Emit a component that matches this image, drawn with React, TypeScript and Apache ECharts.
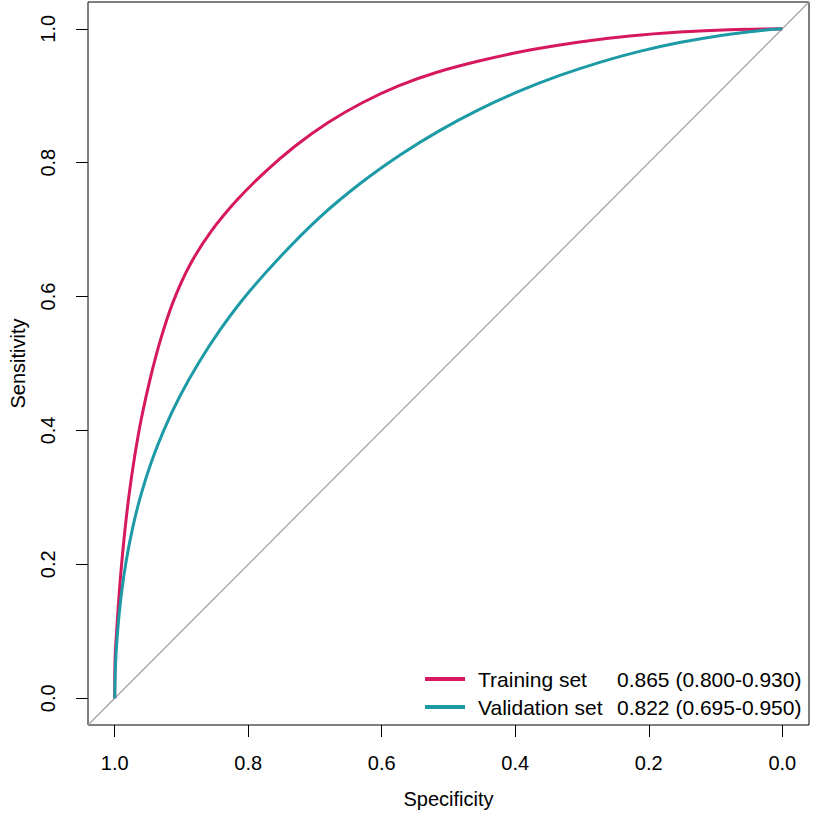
import React, { useEffect, useRef } from "react";
import * as echarts from "echarts";

// Axis range (R-style 4% expansion) and tick values
const axisMin = -0.04;
const axisMax = 1.04;
const tickValues = [0, 0.2, 0.4, 0.6, 0.8, 1.0];

const seriesNames = ["Training set", "Validation set"];
const aucLabels = ["0.865 (0.800-0.930)", "0.822 (0.695-0.950)"];
const seriesColors = ["#D6195F", "#1C9AA6"];

// [specificity, sensitivity]
const trainingRoc: [number, number][] = [
  [1.0, 0.0],
  [0.9994, 0.0598],
  [0.9958, 0.1196],
  [0.9915, 0.1794],
  [0.9859, 0.2392],
  [0.9791, 0.299],
  [0.9705, 0.3587],
  [0.9599, 0.4185],
  [0.9466, 0.4783],
  [0.9312, 0.5361],
  [0.9122, 0.5928],
  [0.8874, 0.6472],
  [0.8553, 0.6976],
  [0.8172, 0.7437],
  [0.775, 0.786],
  [0.7295, 0.8249],
  [0.6808, 0.8596],
  [0.6291, 0.8895],
  [0.5749, 0.9147],
  [0.5185, 0.9347],
  [0.4529, 0.9522],
  [0.3782, 0.9683],
  [0.3034, 0.9804],
  [0.2287, 0.9892],
  [0.154, 0.9951],
  [0.0792, 0.9987],
  [0.0, 1.0],
];

const validationRoc: [number, number][] = [
  [1.0, 0.0],
  [0.9985, 0.0568],
  [0.9951, 0.1061],
  [0.99, 0.1555],
  [0.9828, 0.2048],
  [0.9732, 0.2541],
  [0.9608, 0.3034],
  [0.9451, 0.3528],
  [0.9257, 0.4021],
  [0.9022, 0.4514],
  [0.8744, 0.5007],
  [0.8422, 0.5501],
  [0.8051, 0.5994],
  [0.7519, 0.6595],
  [0.6921, 0.719],
  [0.6323, 0.7688],
  [0.5725, 0.8115],
  [0.5127, 0.8483],
  [0.4529, 0.88],
  [0.3931, 0.9072],
  [0.3333, 0.9303],
  [0.2735, 0.9499],
  [0.2138, 0.9662],
  [0.154, 0.9794],
  [0.0942, 0.9897],
  [0.0344, 0.9972],
  [0.0, 1.0],
];

const diagonal: [number, number][] = [
  [axisMax, axisMin],
  [axisMin, axisMax],
];

const FONT = '"Liberation Sans", Arial, Helvetica, sans-serif';

export default function App() {
  const ref = useRef<HTMLDivElement>(null);
  useEffect(() => {
    if (!ref.current) return;
    const chart = echarts.init(ref.current, null, { renderer: "svg" });
    const fmt = (v: number) => v.toFixed(1);
    chart.setOption({
      animation: false,
      backgroundColor: "#ffffff",
      textStyle: { fontFamily: FONT, color: "#000" },
      grid: {
        left: 87,
        top: 2,
        right: 4,
        bottom: 91,
        show: true,
        borderColor: "#000",
        borderWidth: 1,
        backgroundColor: "transparent",
      },
      xAxis: {
        type: "value",
        inverse: true,
        min: axisMin,
        max: axisMax,
        name: "Specificity",
        nameLocation: "middle",
        nameGap: 64,
        nameTextStyle: { fontSize: 20, color: "#000", fontFamily: FONT },
        axisLine: { show: false, onZero: false },
        splitLine: { show: false },
        axisTick: {
          show: true,
          inside: false,
          length: 12,
          customValues: tickValues,
          lineStyle: { color: "#000", width: 1 },
        },
        axisLabel: {
          customValues: tickValues,
          formatter: fmt,
          fontSize: 20,
          color: "#000",
          margin: 28,
          fontFamily: FONT,
        },
      },
      yAxis: {
        type: "value",
        min: axisMin,
        max: axisMax,
        name: "Sensitivity",
        nameLocation: "middle",
        nameRotate: 90,
        nameGap: 60,
        nameTextStyle: { fontSize: 20, color: "#000", fontFamily: FONT },
        axisLine: { show: false, onZero: false },
        splitLine: { show: false },
        axisTick: {
          show: true,
          inside: false,
          length: 12,
          customValues: tickValues,
          lineStyle: { color: "#000", width: 1 },
        },
        axisLabel: {
          customValues: tickValues,
          formatter: fmt,
          fontSize: 20,
          color: "#000",
          rotate: 90,
          margin: 30,
          fontFamily: FONT,
        },
      },
      legend: {
        data: seriesNames,
        orient: "vertical",
        left: 425,
        top: 668,
        padding: 0,
        itemGap: 6,
        itemWidth: 40,
        itemHeight: 4,
        icon: "rect",
        selectedMode: false,
        formatter: (name: string) => {
          const i = seriesNames.indexOf(name);
          return `{a|${name}}{b|${aucLabels[i]}}`;
        },
        textStyle: {
          fontFamily: FONT,
          fontSize: 21,
          color: "#000",
          lineHeight: 22,
          rich: {
            a: { fontSize: 21, fontFamily: FONT, color: "#000", width: 139, padding: [0, 0, 0, 8], lineHeight: 22 },
            b: { fontSize: 21, fontFamily: FONT, color: "#000", lineHeight: 22 },
          },
        },
      },
      series: [
        {
          type: "line",
          data: diagonal,
          symbol: "none",
          clip: false,
          silent: true,
          lineStyle: { color: "#A0A0A0", width: 1.2 },
          itemStyle: { color: "#A0A0A0" },
          z: 1,
        },
        {
          name: seriesNames[0],
          type: "line",
          data: trainingRoc,
          symbol: "none",
          smooth: 0.33,
          lineStyle: { color: seriesColors[0], width: 3 },
          itemStyle: { color: seriesColors[0] },
          z: 2,
        },
        {
          name: seriesNames[1],
          type: "line",
          data: validationRoc,
          symbol: "none",
          smooth: 0.33,
          lineStyle: { color: seriesColors[1], width: 3 },
          itemStyle: { color: seriesColors[1] },
          z: 3,
        },
      ],
    });
    return () => chart.dispose();
  }, []);
  return (
    <div
      ref={ref}
      style={{ position: "absolute", left: 0, top: 0, width: 813, height: 816 }}
    />
  );
}
